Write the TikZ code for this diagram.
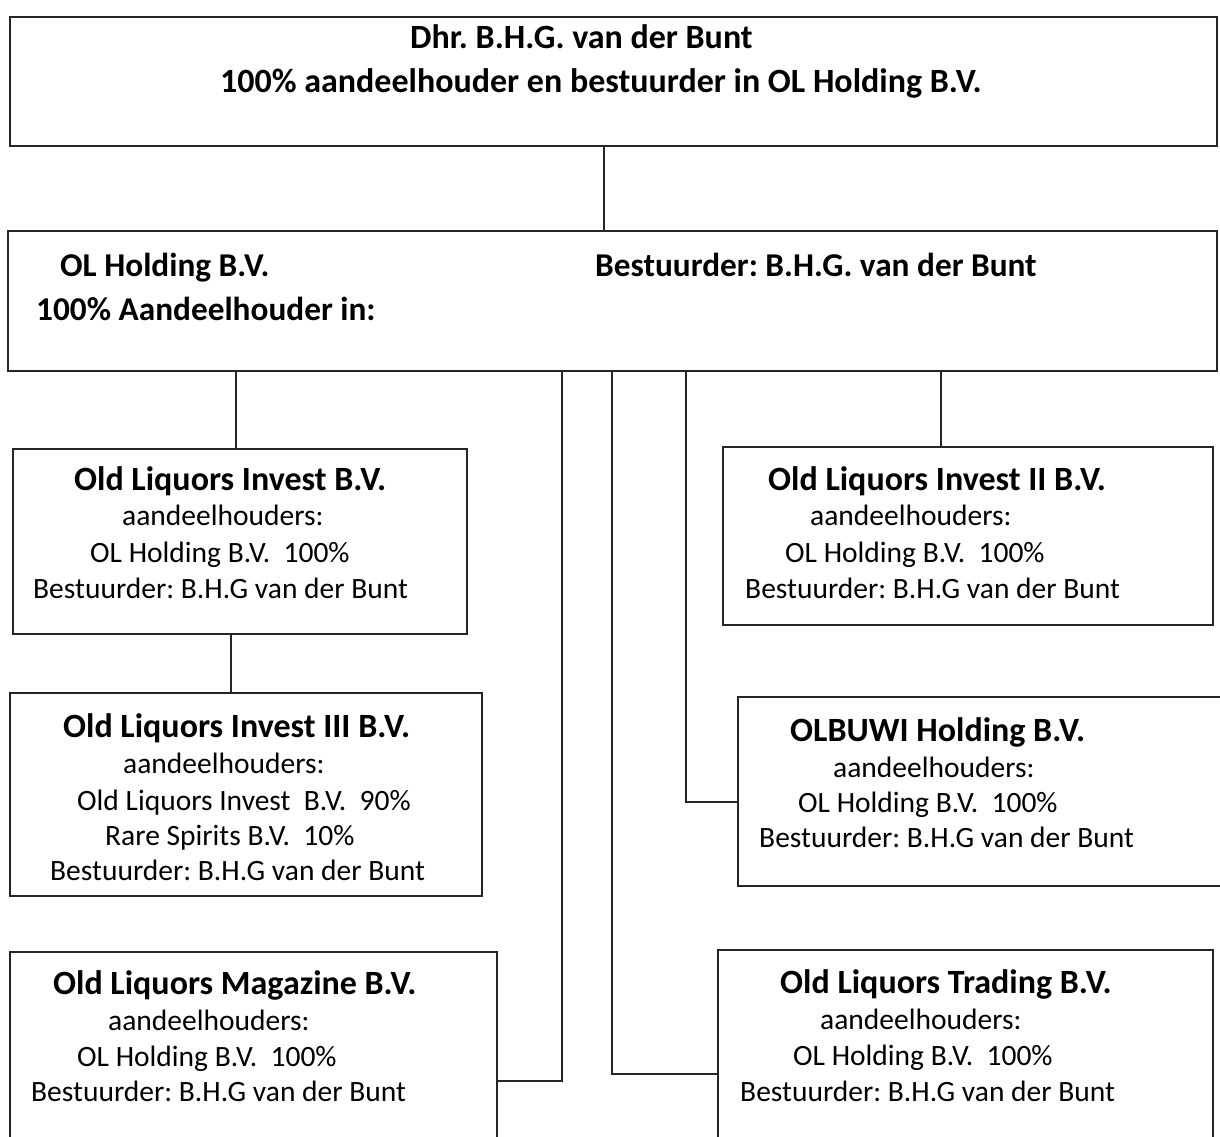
\documentclass[tikz,border=0pt]{standalone}
\usepackage{fontspec}
\setmainfont{Carlito}
\frenchspacing
\begin{document}
\begin{tikzpicture}[x=1pt,y=-1pt,
  box/.style={draw=black!85, line width=1.2pt, rectangle, inner sep=0pt, outer sep=0pt, anchor=north west},
  conn/.style={draw=black!85, line width=1.1pt},
  ttl/.style={anchor=base west, inner sep=0pt, font=\fontsize{34}{40}\selectfont\bfseries},
  hdr/.style={anchor=base west, inner sep=0pt, font=\fontsize{33.3}{40}\selectfont\bfseries},
  txt/.style={anchor=base west, inner sep=0pt, font=\fontsize{29.5}{35}\selectfont}]
\useasboundingbox (0,0) rectangle (1220,1137);
\clip (0,0) rectangle (1220,1137);
\fill[white] (0,0) rectangle (1220,1137);
% boxes
\node[box, minimum width=1207, minimum height=129] (top) at (10,17) {};
\node[box, minimum width=1209, minimum height=140] (ol) at (8,231) {};
\node[box, minimum width=454, minimum height=185] (oli) at (13,449) {};
\node[box, minimum width=490, minimum height=178] (oli2) at (723,447) {};
\node[box, minimum width=472, minimum height=203] (oli3) at (10,693) {};
\node[box, minimum width=500, minimum height=189] (olb) at (738,697) {};
\node[box, minimum width=487, minimum height=258] (mag) at (10,952) {};
\node[box, minimum width=495, minimum height=250] (trd) at (718,950) {};
% texts
\node[ttl] (t1) at (410,49) {Dhr. B.H.G. van der Bunt};
\node[ttl] (t2) at (220,93) {100\% aandeelhouder en bestuurder in OL Holding B.V.};
\node[hdr] (h1) at (60,276) {OL Holding B.V.};
\node[hdr] (h2) at (595,276) {Bestuurder: B.H.G. van der Bunt};
\node[hdr] (h3) at (36,320) {100\% Aandeelhouder in:};
\node[ttl] (a1) at (74,490) {Old Liquors Invest B.V.};
\node[txt] (a2) at (122,525) {aandeelhouders:};
\node[txt] (a3) at (90,562) {OL Holding B.V.\ \ 100\%};
\node[txt] (a4) at (33,598) {Bestuurder: B.H.G van der Bunt};
\node[ttl] (b1) at (768,490) {Old Liquors Invest II B.V.};
\node[txt] (b2) at (810,525) {aandeelhouders:};
\node[txt] (b3) at (785,562) {OL Holding B.V.\ \ 100\%};
\node[txt] (b4) at (745,598) {Bestuurder: B.H.G van der Bunt};
\node[ttl] (c1) at (63,737) {Old Liquors Invest III B.V.};
\node[txt] (c2) at (123,773) {aandeelhouders:};
\node[txt] (c3) at (77,810) {Old Liquors Invest\ \ B.V.\ \ 90\%};
\node[txt] (c4) at (105,845) {Rare Spirits B.V.\ \ 10\%};
\node[txt] (c5) at (50,880) {Bestuurder: B.H.G van der Bunt};
\node[ttl] (d1) at (790,741) {OLBUWI Holding B.V.};
\node[txt] (d2) at (833,777) {aandeelhouders:};
\node[txt] (d3) at (798,812) {OL Holding B.V.\ \ 100\%};
\node[txt] (d4) at (759,847) {Bestuurder: B.H.G van der Bunt};
\node[ttl] (e1) at (53,994) {Old Liquors Magazine B.V.};
\node[txt] (e2) at (108,1030) {aandeelhouders:};
\node[txt] (e3) at (77,1066) {OL Holding B.V.\ \ 100\%};
\node[txt] (e4) at (31,1101) {Bestuurder: B.H.G van der Bunt};
\node[ttl] (f1) at (780,993) {Old Liquors Trading B.V.};
\node[txt] (f2) at (820,1029) {aandeelhouders:};
\node[txt] (f3) at (793,1065) {OL Holding B.V.\ \ 100\%};
\node[txt] (f4) at (740,1101) {Bestuurder: B.H.G van der Bunt};
% connectors
\coordinate (xa) at (604,0);
\coordinate (xb) at (236,0);
\coordinate (xc) at (941,0);
\coordinate (xd) at (231,0);
\coordinate (xe) at (686,0);
\coordinate (ye) at (0,802);
\coordinate (xf) at (562,0);
\coordinate (yf) at (0,1081);
\coordinate (xg) at (612,0);
\coordinate (yg) at (0,1074);
\draw[conn] (top.south -| xa) -- (ol.north -| xa);
\draw[conn] (ol.south -| xb) -- (oli.north -| xb);
\draw[conn] (ol.south -| xc) -- (oli2.north -| xc);
\draw[conn] (oli.south -| xd) -- (oli3.north -| xd);
\draw[conn] (ol.south -| xe) -- (xe |- ye) -- (olb.west |- ye);
\draw[conn] (ol.south -| xf) -- (xf |- yf) -- (mag.east |- yf);
\draw[conn] (ol.south -| xg) -- (xg |- yg) -- (trd.west |- yg);
\end{tikzpicture}
\end{document}
